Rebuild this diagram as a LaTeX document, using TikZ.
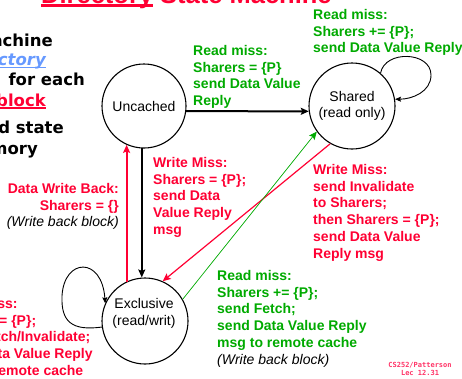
\documentclass[tikz,border=0pt]{standalone}
\usepackage{fontspec}
\setmainfont{Liberation Sans}
\newfontfamily\tagfont{DejaVu Sans Mono}
\newfontfamily\bulfont{DejaVu Sans}
\usetikzlibrary{arrows.meta}

\definecolor{mred}{RGB}{255,0,51}
\definecolor{mgreen}{RGB}{0,170,0}
\definecolor{mblue}{RGB}{102,153,255}
\definecolor{tagred}{RGB}{255,51,102}

% underline: #1 = depth below baseline, #2 = rule thickness, #3 = text
\newlength\ulwd
\newcommand\myul[3]{\settowidth\ulwd{#3}\rlap{\rule[-#1]{\ulwd}{#2}}#3}

\tikzset{
  state/.style={circle, draw=black, line width=1.1pt, inner sep=0pt,
    align=center, font=\fontsize{14}{16.5}\selectfont},
  note/.style={inner sep=0pt, anchor=north west, align=left,
    font=\bfseries\fontsize{14}{16.8}\selectfont},
  bullet/.style={inner sep=0pt, anchor=base east,
    font=\bulfont\bfseries\fontsize{16.5}{20}\selectfont},
  tip/.style={-{Stealth[length=8pt,width=7pt,inset=1.5pt]}},
  looptip/.style={-{Stealth[length=6pt,width=5pt,inset=1pt]}},
}

\begin{document}
\begin{tikzpicture}[x=1pt,y=-1pt]
\useasboundingbox (0,0) rectangle (462,378);
\clip (0,0) rectangle (462,378);

% title
\node[inner sep=0pt, anchor=base west, text=mred,
  font=\bfseries\fontsize{25.5}{28}\selectfont] (title) at (41,3)
  {\myul{3.6pt}{2.2pt}{Directory} State Machine};

% bullet text on the left
\node[bullet] (b1) at (53,46) {State machine};
\node[bullet] (b2) at (46,65.5) {for \textcolor{mblue}{\itshape\myul{2.8pt}{1.5pt}{Directory}}};
\node[bullet] (b3) at (85,85.5) {requests\hspace{0.7em}for each};
\node[bullet] (b4) at (46,106) {memory \textcolor{mred}{\myul{2.8pt}{1.5pt}{block}}};
\node[bullet] (b5) at (64,133.5) {Uncached state};
\node[bullet] (b6) at (38,154) {if in memory};

% states
\node[state, minimum size=84pt] (U) at (144,106) {Uncached};
\node[state, minimum size=86pt] (S) at (352,106) {Shared\\(read only)};
\node[state, minimum size=86pt] (E) at (145,321) {};
\node[inner sep=0pt, align=center, font=\fontsize{14}{16.5}\selectfont]
  (Et) at (144,313.5) {Exclusive\\(read/writ)};

% transitions
\draw[tip, line width=2pt] (U.-7) -- (S.187);
\draw[tip, line width=2pt] (U.-93) -- (U.-93 |- E.north);
\draw[tip, mred, line width=2pt] (E.115) -- (E.115 |- U.-114);
\draw[tip, mred, line width=1.2pt] (S.-120) -- (E.66);
\draw[tip, mgreen, line width=0.7pt] (E.30) -- (S.216);
\draw[looptip, line width=0.9pt] (S.49) to[out=80,in=90,looseness=1.2] (431,75)
  to[out=-90,in=0] (S.9);
\draw[looptip, line width=0.9pt] (E.188) .. controls (72,331) and (61,322) .. (62,296)
  .. controls (64,258) and (102,256) .. (E.156);

% transition labels
\node[note, text=mgreen] (rm1) at (193,45)
  {Read miss:\\Sharers = \{P\}\\send Data Value\\Reply};
\node[note, text=mgreen] (rm2) at (313,9)
  {Read miss:\\Sharers += \{P\};\\send Data Value Reply};
\node[note, text=mred] (wm1) at (153,157)
  {Write Miss:\\Sharers = \{P\};\\send Data\\Value Reply\\msg};
\node[note, text=mred] (wm2) at (313,164)
  {Write Miss:\\send Invalidate\\to Sharers;\\then Sharers = \{P\};\\send Data Value\\Reply msg};
\node[note, text=mred, anchor=north east, align=right] (wb) at (119,183)
  {Data Write Back:\\Sharers = \{\}\\\textcolor{black}{\mdseries\itshape (Write back block)}};
\node[note, text=mred] (wm3) at (-57,298)
  {Write Miss:\\Sharers = \{P\};\\send Fetch/Invalidate;\\send Data Value Reply\\msg to remote cache};
\node[note, text=mgreen] (rm3) at (217,270)
  {Read miss:\\Sharers += \{P\};\\send Fetch;\\send Data Value Reply\\msg to remote cache\\\textcolor{black}{\mdseries\itshape (Write back block)}};

% slide tag
\node[inner sep=0pt, anchor=north, align=center, text=tagred,
  font=\tagfont\bfseries\fontsize{7}{8.3}\selectfont] (tag) at (420,362)
  {CS252/Patterson\\Lec 12.31};
\end{tikzpicture}
\end{document}
